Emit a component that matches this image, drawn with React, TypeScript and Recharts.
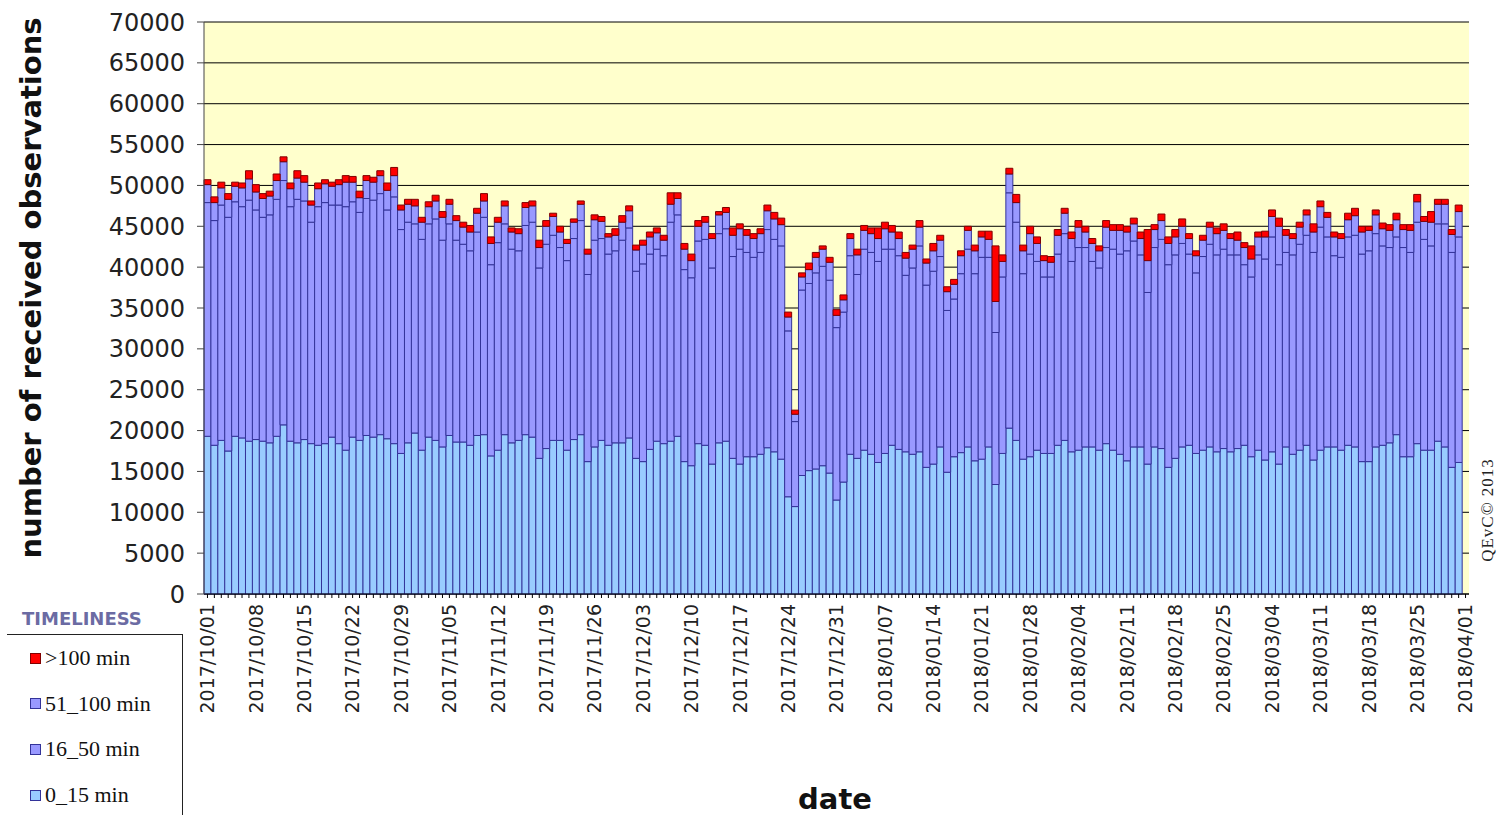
import { Bar, BarChart, CartesianGrid, Label, XAxis, YAxis } from 'recharts'

// daily counts per timeliness class, 2017/10/01 .. 2018/03/31 (04/01 has no bar)
const LOW = [
  19300, 18200, 18800, 17500, 19300, 19100, 18700, 18900, 18700, 18500,
  19300, 20700, 18700, 18500, 18900, 18400, 18200, 18400, 19200, 18400,
  17600, 19200, 18800, 19400, 19200, 19500, 19000, 18400, 17200, 18500,
  19700, 17600, 19200, 18800, 18000, 19400, 18600, 18600, 18200, 19400,
  19500, 16900, 17600, 19500, 18500, 18800, 19500, 19200, 16600, 17800,
  18800, 18800, 17600, 18900, 19500, 16200, 18000, 18800, 18200, 18500,
  18500, 19100, 16600, 16200, 17700, 18700, 18400, 18700, 19300, 16200,
  15700, 18400, 18200, 15900, 18500, 18700, 16600, 15900, 16800, 16800,
  17100, 17900, 17400, 16500, 11900, 10700, 14500, 15100, 15300, 15700,
  14800, 11500, 13700, 17100, 16600, 17600, 17100, 16100, 17200, 18200,
  17700, 17400, 17100, 17400, 15500, 15900, 18000, 14900, 16800, 17300,
  18000, 16300, 16500, 18000, 13400, 17200, 20300, 18800, 16500, 16800,
  17600, 17200, 17200, 18200, 18800, 17400, 17600, 18000, 18000, 17600,
  18400, 17600, 17100, 16300, 18000, 18000, 15900, 18000, 17800, 15500,
  16600, 18000, 18200, 17200, 17600, 18000, 17400, 17800, 17400, 17800,
  18200, 16800, 17600, 16400, 17400, 15900, 18000, 17100, 17600, 18200,
  16400, 17600, 18000, 18000, 17600, 18200, 18000, 16200, 16200, 18000,
  18200, 18500, 19500, 16800, 16800, 18400, 17600, 17600, 18700, 18000,
  15500, 16100,
]

const MID = [
  28600, 27500, 28800, 28600, 28700, 28300, 29500, 28100, 27400, 27900,
  29000, 29900, 28700, 29800, 29200, 27100, 29200, 29500, 28400, 29200,
  29800, 28800, 27900, 29000, 29000, 29500, 28000, 30200, 27400, 27000,
  25600, 25800, 26100, 27100, 25300, 25900, 24700, 24200, 23800, 24900,
  26600, 23400, 25400, 25800, 23700, 23200, 25600, 26300, 23300, 25000,
  25100, 23600, 23200, 24600, 26200, 22900, 25300, 24700, 23400, 23500,
  24800, 25700, 22900, 24200, 23900, 23500, 23000, 26800, 27100, 23500,
  23000, 24800, 25200, 24000, 25600, 26000, 24700, 26300, 25000, 24400,
  24700, 26700, 26000, 26100, 20300, 10400, 22700, 22900, 24000, 24400,
  23600, 21100, 20800, 24300, 22500, 24600, 24700, 24600, 25000, 24000,
  23700, 21600, 22800, 25200, 22300, 23600, 23300, 19800, 19300, 21900,
  24200, 22900, 24700, 23200, 18600, 21600, 28800, 26700, 22700, 24800,
  23100, 21600, 21600, 23400, 25300, 23300, 24800, 24400, 22700, 22300,
  24000, 24600, 24500, 25700, 25200, 23500, 21000, 24400, 25600, 24800,
  24900, 24900, 23400, 22100, 23700, 24800, 24100, 24400, 24100, 23700,
  22100, 22000, 23900, 24600, 26300, 24400, 23800, 24400, 25200, 25700,
  25400, 27300, 25700, 23400, 23600, 25500, 25900, 25400, 25800, 26100,
  24400, 23900, 24200, 25600, 25000, 27100, 25800, 25000, 26600, 27300,
  26300, 27600,
]

const HIGH = [
  2200, 2200, 2100, 2200, 1900, 2300, 2600, 2200, 2300, 2300,
  2300, 2300, 2200, 2600, 2300, 2100, 2200, 2300, 2300, 2500,
  3000, 2400, 1800, 2200, 2200, 2200, 2400, 2600, 2400, 2200,
  2200, 2100, 2100, 2200, 2800, 2400, 2400, 2100, 2300, 2300,
  2000, 2600, 2500, 2200, 2100, 2100, 2200, 2000, 2500, 2200,
  2300, 1900, 2100, 2000, 2000, 2500, 2500, 2100, 2100, 1900,
  2200, 2100, 2600, 2300, 2100, 2000, 1900, 2200, 2000, 2500,
  2100, 1800, 2100, 3600, 2300, 2000, 2600, 2500, 2100, 2300,
  2300, 2300, 2500, 2600, 1700, 900, 1600, 1700, 1900, 2100,
  2200, 1500, 1500, 2100, 2400, 2300, 2300, 2800, 2500, 2100,
  2100, 2100, 2300, 2300, 2700, 2500, 2000, 2300, 1800, 2200,
  2300, 2800, 2500, 2200, 3800, 1900, 2300, 2400, 2800, 2500,
  2200, 2000, 1800, 2300, 2500, 2800, 2500, 1900, 2200, 2100,
  2500, 2300, 2900, 2300, 2100, 2000, 3900, 2200, 2300, 2600,
  2200, 2100, 1900, 2100, 2000, 2100, 2600, 2300, 2000, 1800,
  2100, 2200, 2200, 2700, 2500, 4700, 2100, 2000, 2100, 2500,
  2500, 2500, 2400, 2300, 2300, 2100, 2400, 2700, 2500, 2300,
  2100, 2100, 2100, 2200, 2700, 2500, 2200, 2900, 2400, 2400,
  2200, 3100,
]

const LATE = [
  600, 700, 700, 700, 500, 600, 1000, 900, 600, 600,
  800, 600, 700, 900, 800, 500, 700, 500, 500, 600,
  800, 700, 800, 600, 600, 600, 900, 1000, 600, 600,
  800, 600, 600, 700, 700, 600, 600, 600, 800, 600,
  900, 800, 600, 600, 500, 600, 600, 600, 900, 700,
  400, 700, 500, 400, 400, 600, 600, 600, 400, 800,
  800, 600, 600, 600, 600, 600, 600, 1400, 700, 700,
  800, 700, 700, 600, 400, 600, 900, 600, 700, 600,
  600, 700, 800, 800, 600, 500, 500, 800, 600, 400,
  600, 700, 600, 600, 700, 600, 700, 1300, 800, 800,
  800, 700, 500, 800, 500, 900, 600, 600, 600, 600,
  500, 700, 700, 1000, 6800, 800, 700, 1000, 700, 900,
  800, 600, 700, 700, 600, 800, 800, 700, 600, 600,
  800, 700, 700, 700, 700, 800, 3800, 600, 800, 800,
  900, 900, 600, 600, 600, 600, 700, 800, 600, 1000,
  600, 1600, 600, 700, 800, 1000, 700, 600, 600, 600,
  1000, 700, 600, 600, 600, 800, 900, 700, 500, 600,
  700, 700, 800, 600, 700, 900, 600, 1300, 600, 600,
  600, 800,
]

const TICK_LABELS = [
  '2017/10/01', '2017/10/08', '2017/10/15', '2017/10/22', '2017/10/29',
  '2017/11/05', '2017/11/12', '2017/11/19', '2017/11/26', '2017/12/03',
  '2017/12/10', '2017/12/17', '2017/12/24', '2017/12/31', '2018/01/07',
  '2018/01/14', '2018/01/21', '2018/01/28', '2018/02/04', '2018/02/11',
  '2018/02/18', '2018/02/25', '2018/03/04', '2018/03/11', '2018/03/18',
  '2018/03/25', '2018/04/01',
]

const Y_TICKS = [0, 5000, 10000, 15000, 20000, 25000, 30000, 35000, 40000, 45000, 50000, 55000, 60000, 65000, 70000]

const SERIES = [
  { key: 'low', name: '0_15 min', fill: '#99ccff', stroke: '#333399' },
  { key: 'mid', name: '16_50 min', fill: '#9999ff', stroke: '#333399' },
  { key: 'high', name: '51_100 min', fill: '#9999ff', stroke: '#333399' },
  { key: 'late', name: '>100 min', fill: '#ff0000', stroke: '#800000' },
]

const pad = (n: number) => String(n).padStart(2, '0')

// one category per day, 2017/10/01 .. 2018/04/01
const DAYS: string[] = []
for (let d = new Date(Date.UTC(2017, 9, 1)); d <= new Date(Date.UTC(2018, 3, 1)); d.setUTCDate(d.getUTCDate() + 1)) {
  DAYS.push(`${d.getUTCFullYear()}/${pad(d.getUTCMonth() + 1)}/${pad(d.getUTCDate())}`)
}

const data = DAYS.map((date, i) => ({
  date,
  low: LOW[i] ?? null,
  mid: MID[i] ?? null,
  high: HIGH[i] ?? null,
  late: LATE[i] ?? null,
}))

const tickSet = new Set(TICK_LABELS)

function DateTick(props: any) {
  const { x, y, payload } = props
  if (!tickSet.has(payload.value)) return null
  return (
    <text
      x={x}
      y={y}
      dy="0.36em"
      textAnchor="end"
      transform={`rotate(-90, ${x}, ${y})`}
      fontFamily="DejaVu Sans"
      fontSize={19}
      fill="#222"
    >
      {payload.value}
    </text>
  )
}

function TimelinessLegend() {
  const items = [...SERIES].reverse()
  return (
    <div style={{ position: 'absolute', left: 0, top: 604, width: 190, height: 211 }}>
      <div
        style={{
          position: 'absolute',
          left: 22,
          top: 4,
          fontFamily: 'DejaVu Sans',
          fontWeight: 'bold',
          fontSize: 18,
          color: '#6b6ba3',
        }}
      >
        TIMELINESS
      </div>
      <div style={{ position: 'absolute', left: 7, top: 30, width: 175, height: 181, borderTop: '1px solid #222', borderRight: '1px solid #222' }} />
      {items.map((s, i) => (
        <div
          key={s.key}
          style={{ position: 'absolute', left: 30, top: 54 + i * 45.7 - 13, height: 26, display: 'flex', alignItems: 'center' }}
        >
          <span style={{ display: 'inline-block', width: 9, height: 9, background: s.fill, border: `1px solid ${s.stroke}`, marginRight: 4 }} />
          <span style={{ fontFamily: 'Liberation Serif', fontSize: 22, color: '#111' }}>{s.name}</span>
        </div>
      ))}
    </div>
  )
}

export default function App() {
  return (
    <div style={{ position: 'absolute', left: 0, top: 0, width: 1497, height: 815, background: '#fff' }}>
      <BarChart
        width={1497}
        height={815}
        data={data}
        margin={{ top: 22, right: 28, bottom: 0, left: 0 }}
        barCategoryGap={0}
        barGap={0}
      >
        <CartesianGrid vertical={false} stroke="#000" fill="#ffffcc" fillOpacity={1} />
        <XAxis
          dataKey="date"
          height={221}
          interval={0}
          tick={<DateTick />}
          tickSize={4}
          tickMargin={6}
          tickLine={{ stroke: '#000' }}
          axisLine={{ stroke: '#000' }}
        >
          <Label
            content={() => (
              <text x={835} y={809} textAnchor="middle" fontFamily="DejaVu Sans" fontWeight="bold" fontSize={29} fill="#111">
                date
              </text>
            )}
          />
        </XAxis>
        <YAxis
          width={204}
          domain={[0, 70000]}
          ticks={Y_TICKS}
          interval={0}
          tickSize={7}
          tickMargin={12}
          tick={{ fontFamily: 'DejaVu Sans', fontSize: 24, fill: '#222' }}
          tickLine={{ stroke: '#444' }}
          axisLine={{ stroke: '#444' }}
        >
          <Label
            content={() => (
              <text
                x={41}
                y={288}
                textAnchor="middle"
                transform="rotate(-90, 41, 288)"
                fontFamily="DejaVu Sans"
                fontWeight="bold"
                fontSize={29}
                fill="#111"
              >
                number of received observations
              </text>
            )}
          />
        </YAxis>
        <YAxis
          yAxisId="right"
          orientation="right"
          width={0}
          domain={[0, 70000]}
          tick={false}
          tickLine={false}
          axisLine={{ stroke: '#a0a0a0' }}
        />
        {SERIES.map((s) => (
          <Bar
            key={s.key}
            dataKey={s.key}
            name={s.name}
            stackId="a"
            fill={s.fill}
            stroke={s.stroke}
            strokeWidth={1}
            isAnimationActive={false}
          />
        ))}
      </BarChart>
      <TimelinessLegend />
      <svg width={1497} height={815} style={{ position: 'absolute', left: 0, top: 0, pointerEvents: 'none' }}>
        <text
          x={1493}
          y={510}
          textAnchor="middle"
          transform="rotate(-90, 1493, 510)"
          fontFamily="Liberation Serif"
          fontSize={17}
          letterSpacing={1}
          fill="#222"
        >
          QEvC© 2013
        </text>
      </svg>
    </div>
  )
}
